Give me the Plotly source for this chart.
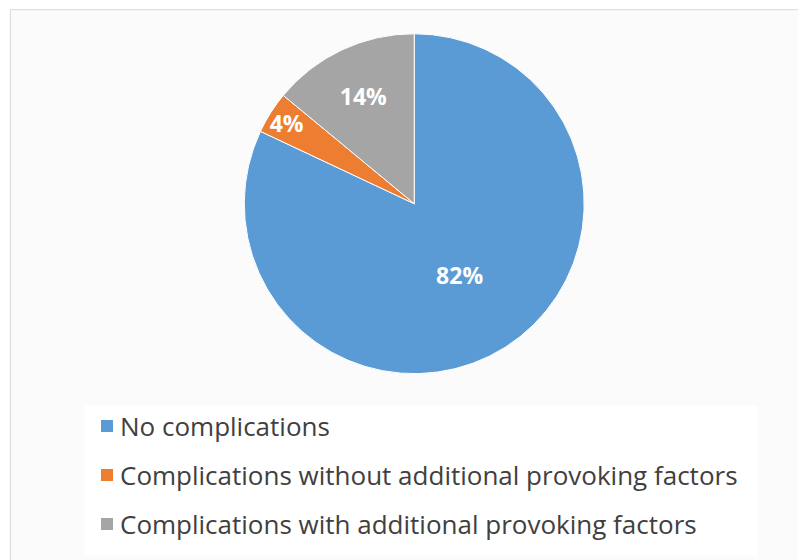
"""Complications pie chart."""

import plotly.graph_objects as go

labels = [
    "No complications",
    "Complications without additional provoking factors",
    "Complications with additional provoking factors",
]
values = [82, 4, 14]
colors = ["#5b9bd5", "#ed7d31", "#a5a5a5"]

fig = go.Figure(
    data=[
        go.Pie(
            labels=labels,
            values=values,
            sort=False,
            direction="clockwise",
            rotation=0,
            marker_colors=colors,
            marker_line=dict(color="white", width=1),
            texttemplate="%{percent:.0%}",
            textposition="inside",
            insidetextorientation="horizontal",
            textfont=dict(family="Open Sans", size=23, color="white", weight="bold"),
            domain=dict(x=[0.29, 0.718], y=[0.347, 0.954]),
            showlegend=False,
        )
    ]
)

shapes = [
    dict(type="rect", xref="paper", yref="paper", x0=0.003, x1=0.997, y0=0.003, y1=0.997,
         line=dict(color="#d9d9d9", width=1), fillcolor="#fbfbfb", layer="below"),
    dict(type="rect", xref="paper", yref="paper", x0=0.095, x1=0.93, y0=0.02, y1=0.29,
         line=dict(width=0), fillcolor="white", layer="below"),
]
annotations = []
for i, (lab, col) in enumerate(zip(labels, colors)):
    yc = 1 - (418 + i * 49) / 560
    shapes.append(dict(type="rect", xref="paper", yref="paper",
                       x0=93 / 806, x1=105 / 806, y0=yc - 6 / 560, y1=yc + 6 / 560,
                       fillcolor=col, line=dict(width=0)))
    annotations.append(dict(text=lab, xref="paper", yref="paper", x=110 / 806, y=yc,
                            xanchor="left", yanchor="middle", showarrow=False,
                            font=dict(family="Open Sans", size=26, color="#404040")))

fig.update_layout(
    width=806,
    height=560,
    margin=dict(l=0, r=0, t=0, b=0),
    paper_bgcolor="white",
    shapes=shapes,
    annotations=annotations,
    uniformtext=dict(minsize=22, mode="show"),
)

fig.write_html("out.html")
